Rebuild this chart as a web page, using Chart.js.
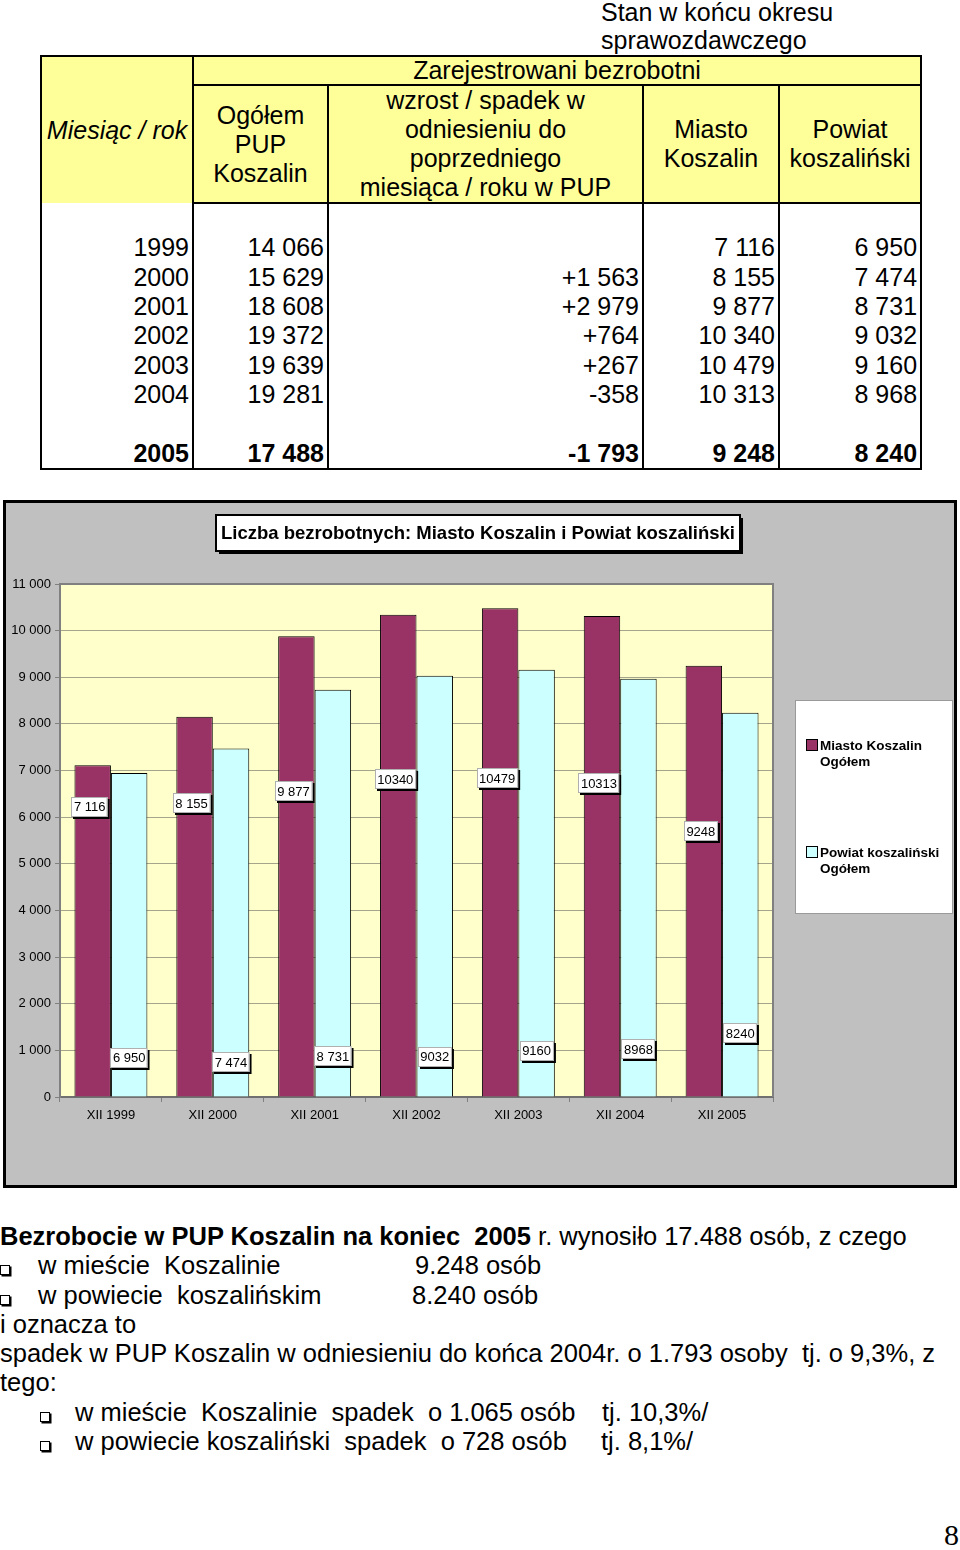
<!DOCTYPE html>
<html lang="pl">
<head>
<meta charset="utf-8">
<title>Bezrobocie PUP Koszalin</title>
<script src="https://cdn.jsdelivr.net/npm/chart.js@4"></script>
<style>
  body { margin: 0; background: #fff; font-family: "Liberation Sans", Arial, sans-serif; color: #000; }
  .page { position: relative; width: 960px; height: 1550px; overflow: hidden; }
  .stan { position: absolute; left: 601px; top: -2px; font-size: 25px; line-height: 28px; }
  #tabela { position: absolute; left: 40px; top: 55px; width: 880px; border-collapse: collapse; table-layout: fixed; font-size: 25px; }
  #tabela td { border: 2px solid #000; padding: 0; }
  #tabela td.hdr { background: #ffff99; text-align: center; line-height: 29px; vertical-align: middle; }
  #tabela tr.h1 td.hdr { line-height: 27px; }
  #tabela td.mies { font-style: italic; border-bottom: none; line-height: 27px; }
  #tabela tbody td { border-top: none; border-bottom: none; text-align: right; padding-right: 3px; height: 29.33px; line-height: 29.33px; white-space: nowrap; }
  #tabela tbody tr.last td { border-bottom: 2px solid #000; font-weight: bold; }
  .chartbox { position: absolute; left: 3px; top: 500px; width: 948px; height: 682px; border: 3px solid #000; background: #c0c0c0; }
  .chartbox canvas { display: block; }
  .opis { position: absolute; left: 0; top: 1222px; width: 960px; font-size: 25.5px; line-height: 29.3px; white-space: nowrap; }
  .opis div { height: 29.3px; }
  .bul { display: inline-block; width: 8px; height: 8px; border: 1px solid #000; box-shadow: 1.5px 1.5px 0 #000; vertical-align: -1px; }
  .c1 { display: inline-block; }
  .nr { position: absolute; left: 944px; top: 1518px; font-family: "Liberation Serif", "Times New Roman", serif; font-size: 30px; }
</style>
</head>
<body>
<div class="page">
  <div class="stan">Stan w końcu okresu<br>sprawozdawczego</div>

  <table id="tabela">
    <colgroup>
      <col style="width:152px"><col style="width:135px"><col style="width:315px"><col style="width:136px"><col style="width:142px">
    </colgroup>
    <thead>
      <tr class="h1">
        <td class="hdr mies" rowspan="2">Miesiąc / rok</td>
        <td class="hdr" colspan="4">Zarejestrowani bezrobotni</td>
      </tr>
      <tr class="h2">
        <td class="hdr">Ogółem<br>PUP<br>Koszalin</td>
        <td class="hdr">wzrost / spadek w<br>odniesieniu do<br>poprzedniego<br>miesiąca / roku w PUP</td>
        <td class="hdr">Miasto<br>Koszalin</td>
        <td class="hdr">Powiat<br>koszaliński</td>
      </tr>
    </thead>
    <tbody id="tabelaBody"></tbody>
  </table>

  <div class="chartbox">
    <canvas id="bezrobotniChart" width="948" height="682"></canvas>
  </div>

  <div class="opis">
    <div><b>Bezrobocie w PUP Koszalin na koniec&nbsp; 2005</b> r. wynosiło 17.488 osób, z czego</div>
    <div><span class="c1" style="width:38px"><span class="bul"></span></span><span class="c1" style="width:377px">w mieście&nbsp; Koszalinie</span>9.248 osób</div>
    <div><span class="c1" style="width:38px"><span class="bul"></span></span><span class="c1" style="width:374px">w powiecie&nbsp; koszalińskim</span>8.240 osób</div>
    <div>i oznacza to</div>
    <div>spadek w PUP Koszalin w odniesieniu do końca 2004r. o 1.793 osoby&nbsp; tj. o 9,3%, z</div>
    <div>tego:</div>
    <div><span class="c1" style="width:40px"></span><span class="c1" style="width:35px"><span class="bul"></span></span><span class="c1" style="width:527px">w mieście&nbsp; Koszalinie&nbsp; spadek&nbsp; o 1.065 osób</span>tj. 10,3%/</div>
    <div><span class="c1" style="width:40px"></span><span class="c1" style="width:35px"><span class="bul"></span></span><span class="c1" style="width:526px">w powiecie koszaliński&nbsp; spadek&nbsp; o 728 osób</span>tj. 8,1%/</div>
  </div>

  <div class="nr">8</div>
</div>

<script>
// dane z tabeli (stan w grudniu)
const years = ['1999', '2000', '2001', '2002', '2003', '2004', '2005'];
const ogolemPUP = [14066, 15629, 18608, 19372, 19639, 19281, 17488];
const zmianaPUP = [null, 1563, 2979, 764, 267, -358, -1793];
const miastoKoszalin = [7116, 8155, 9877, 10340, 10479, 10313, 9248];
const powiatKoszalinski = [6950, 7474, 8731, 9032, 9160, 8968, 8240];

// wykres
const categories = ['XII 1999', 'XII 2000', 'XII 2001', 'XII 2002', 'XII 2003', 'XII 2004', 'XII 2005'];
const miastoLabels = ['7 116', '8 155', '9 877', '10340', '10479', '10313', '9248'];
const powiatLabels = ['6 950', '7 474', '8 731', '9032', '9160', '8968', '8240'];
const yMax = 11000;
const yStep = 1000;

// where the (hand-placed) value labels sit, in axis units
const miastoLabelAt = [6220, 6300, 6560, 6820, 6840, 6730, 5700];
const powiatLabelAt = [840, 750, 880, 860, 990, 1030, 1370];

function fmt(n) {
  return String(Math.abs(n)).replace(/\B(?=(\d{3})+(?!\d))/g, ' ');
}

function fillTable() {
  const tbody = document.getElementById('tabelaBody');
  const addRow = (cells, cls) => {
    const row = document.createElement('tr');
    if (cls) row.className = cls;
    cells.forEach((text) => {
      const td = document.createElement('td');
      td.textContent = text;
      row.appendChild(td);
    });
    tbody.appendChild(row);
  };
  addRow(['', '', '', '', '']);
  years.forEach((year, i) => {
    const z = zmianaPUP[i];
    const zText = z === null ? '' : (z > 0 ? '+' : '-') + fmt(z);
    const cells = [year, fmt(ogolemPUP[i]), zText, fmt(miastoKoszalin[i]), fmt(powiatKoszalinski[i])];
    if (i === years.length - 1) {
      addRow(['', '', '', '', '']);
      addRow(cells, 'last');
    } else {
      addRow(cells);
    }
  });
}

fillTable();

const FONT = '"Liberation Sans", Arial, sans-serif';
Chart.defaults.font.family = FONT;
Chart.defaults.color = '#000';

// plot background and gray frame
const plotArea = {
  id: 'plotArea',
  beforeDraw(chart) {
    const { ctx, chartArea: a } = chart;
    ctx.save();
    ctx.fillStyle = '#ffffcc';
    ctx.fillRect(a.left, a.top, a.right - a.left, a.bottom - a.top);
    ctx.restore();
  },
  afterDraw(chart) {
    const { ctx, chartArea: a } = chart;
    ctx.save();
    ctx.strokeStyle = '#808080';
    ctx.lineWidth = 2;
    ctx.beginPath();
    ctx.moveTo(a.left, a.top);
    ctx.lineTo(a.right, a.top);
    ctx.lineTo(a.right, a.bottom);
    ctx.stroke();
    ctx.restore();
  },
};

// title box and legend box like the Excel original
const decorations = {
  id: 'decorations',
  afterDraw(chart) {
    const ctx = chart.ctx;
    ctx.save();

    // title
    const tx = 210, ty = 12, tw = 524, th = 36;
    ctx.fillStyle = '#000';
    ctx.fillRect(tx + 3, ty + 3, tw, th);
    ctx.fillStyle = '#fff';
    ctx.fillRect(tx, ty, tw, th);
    ctx.strokeStyle = '#000';
    ctx.lineWidth = 2;
    ctx.strokeRect(tx, ty, tw, th);
    ctx.fillStyle = '#000';
    ctx.font = 'bold 18.5px ' + FONT;
    ctx.textAlign = 'center';
    ctx.textBaseline = 'middle';
    ctx.fillText('Liczba bezrobotnych: Miasto Koszalin i Powiat koszaliński', tx + tw / 2, ty + th / 2 + 1, tw - 8);

    // legend
    const lx = 789, ly = 197, lw = 157, lh = 213;
    ctx.fillStyle = '#fff';
    ctx.fillRect(lx, ly, lw, lh);
    ctx.strokeStyle = '#9a9a9a';
    ctx.lineWidth = 1;
    ctx.strokeRect(lx + 0.5, ly + 0.5, lw, lh);

    ctx.textAlign = 'left';
    ctx.font = 'bold 13.5px ' + FONT;
    chart.data.datasets.forEach((ds, i) => {
      const my = ly + 40 + i * 107;
      ctx.fillStyle = ds.backgroundColor;
      ctx.fillRect(lx + 12, my, 10, 10);
      ctx.strokeStyle = '#000';
      ctx.strokeRect(lx + 11.5, my - 0.5, 11, 11);
      ctx.fillStyle = '#000';
      ds.legendLines.forEach((line, k) => {
        ctx.fillText(line, lx + 25, my + 6 + k * 16);
      });
    });
    ctx.restore();
  },
};

// white value labels with black shadow
const valueLabels = {
  id: 'valueLabels',
  afterDatasetsDraw(chart) {
    const ctx = chart.ctx;
    const yScale = chart.scales.y;
    ctx.save();
    ctx.font = '13px ' + FONT;
    ctx.textAlign = 'center';
    ctx.textBaseline = 'middle';
    chart.data.datasets.forEach((ds, di) => {
      const meta = chart.getDatasetMeta(di);
      meta.data.forEach((bar, i) => {
        const text = ds.valueLabels[i];
        const w = ctx.measureText(text).width + 5;
        const h = 20;
        const cx = bar.x + (di === 0 ? -3 : 0);
        const cy = yScale.getPixelForValue(ds.labelAt[i]);
        const x = Math.round(cx - w / 2), y = Math.round(cy - h / 2);
        ctx.fillStyle = '#000';
        ctx.fillRect(x + 2, y + 2, w, h);
        ctx.fillStyle = '#fff';
        ctx.fillRect(x, y, w, h);
        ctx.strokeStyle = '#b0b0b0';
        ctx.lineWidth = 1;
        ctx.strokeRect(x + 0.5, y + 0.5, w - 1, h - 1);
        ctx.fillStyle = '#000';
        ctx.fillText(text, cx, cy + 1);
      });
    });
    ctx.restore();
  },
};

const ctx = document.getElementById('bezrobotniChart').getContext('2d');
new Chart(ctx, {
  type: 'bar',
  data: {
    labels: categories,
    datasets: [
      {
        label: 'Miasto Koszalin Ogółem',
        legendLines: ['Miasto Koszalin', 'Ogółem'],
        data: miastoKoszalin,
        valueLabels: miastoLabels,
        labelAt: miastoLabelAt,
        backgroundColor: '#993366',
        borderColor: '#000',
        borderWidth: 1,
        categoryPercentage: 0.716,
        barPercentage: 1.0,
      },
      {
        label: 'Powiat koszaliński Ogółem',
        legendLines: ['Powiat koszaliński', 'Ogółem'],
        data: powiatKoszalinski,
        valueLabels: powiatLabels,
        labelAt: powiatLabelAt,
        backgroundColor: '#ccffff',
        borderColor: '#000',
        borderWidth: 1,
        categoryPercentage: 0.716,
        barPercentage: 1.0,
      },
    ],
  },
  options: {
    responsive: false,
    animation: false,
    layout: {
      padding: { top: 81, right: 181, left: 0, bottom: 58 },
    },
    plugins: {
      legend: { display: false },
      title: { display: false },
      tooltip: { enabled: false },
    },
    scales: {
      x: {
        afterFit: (scale) => { scale.height = 30; },
        grid: { drawOnChartArea: false, tickLength: 5, color: '#808080' },
        border: { color: '#707070', width: 2 },
        ticks: { font: { size: 13 }, padding: 6, maxRotation: 0 },
      },
      y: {
        min: 0,
        max: yMax,
        afterFit: (scale) => { scale.width = 54; },
        grid: { color: '#a5a58c', tickLength: 5, tickColor: '#808080' },
        border: { color: '#808080', width: 2 },
        ticks: {
          stepSize: yStep,
          font: { size: 13 },
          padding: 4,
          callback: (value) => fmt(value),
        },
      },
    },
  },
  plugins: [plotArea, valueLabels, decorations],
});
</script>
</body>
</html>
